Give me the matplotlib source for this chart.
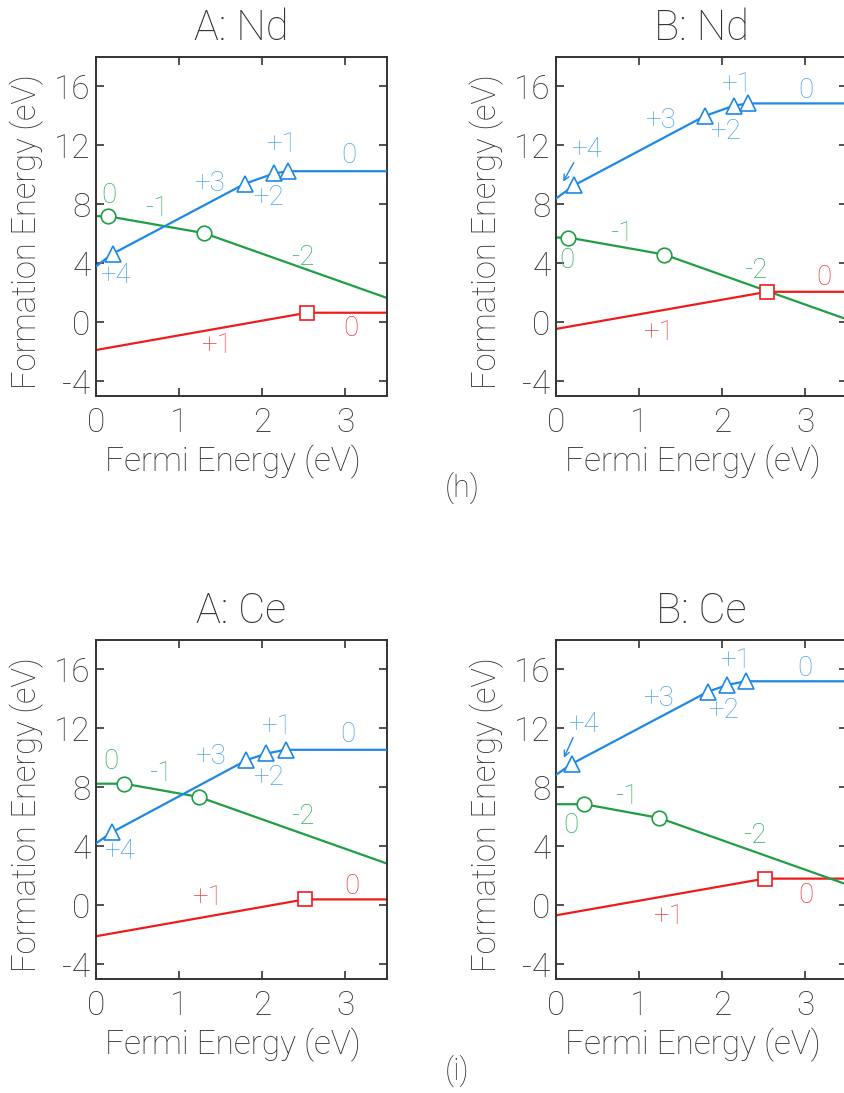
import matplotlib
matplotlib.use("Agg")
import matplotlib.pyplot as plt

plt.rcParams['font.family'] = ['Roboto', 'DejaVu Sans']
plt.rcParams['font.weight'] = 'light'
plt.rcParams['axes.labelweight'] = 'light'
plt.rcParams['axes.titleweight'] = 'light'
plt.rcParams['axes.unicode_minus'] = False

BLUE, GREEN, RED = '#1e88e5', '#1f9e45', '#ee1c1c'
BLUE_T, GREEN_T, RED_T = '#4ea4e6', '#34b060', '#e84040'
DARK = '#333333'

titles = ['A: Nd', 'B: Nd', 'A: Ce', 'B: Ce']

# transition-level vertices (Fermi energy, formation energy) per panel
blue_x = [[0, 0.20, 1.79, 2.14, 2.31, 3.5],
          [0, 0.22, 1.79, 2.14, 2.31, 3.5],
          [0, 0.19, 1.81, 2.05, 2.28, 3.5],
          [0, 0.19, 1.83, 2.06, 2.28, 3.5]]
blue_y = [[3.8, 4.65, 9.4, 10.1, 10.25, 10.25],
          [8.4, 9.3, 14.0, 14.7, 14.85, 14.85],
          [4.2, 4.95, 9.85, 10.3, 10.55, 10.55],
          [8.85, 9.6, 14.5, 14.95, 15.2, 15.2]]

green_x = [[0, 0.14, 1.30, 3.5],
           [0, 0.15, 1.30, 3.5],
           [0, 0.34, 1.24, 3.5],
           [0, 0.34, 1.24, 3.5]]
green_y = [[7.2, 7.2, 6.05, 1.65],
           [5.75, 5.75, 4.6, 0.2],
           [8.25, 8.25, 7.35, 2.83],
           [6.86, 6.86, 5.93, 1.41]]

red_x = [[0, 2.54, 3.5],
         [0, 2.54, 3.5],
         [0, 2.51, 3.5],
         [0, 2.51, 3.5]]
red_y = [[-1.88, 0.65, 0.65],
         [-0.45, 2.07, 2.07],
         [-2.1, 0.4, 0.4],
         [-0.68, 1.81, 1.81]]

# charge-state labels: (text, x, y)
blue_labels = [
    [('0', 3.04, 11.3), ('+1', 2.23, 12.05), ('+3', 1.36, 9.42), ('+2', 2.07, 8.47), ('+4', 0.23, 3.16)],
    [('0', 3.0, 15.75), ('+1', 2.17, 16.15), ('+3', 1.26, 13.67), ('+2', 2.04, 12.93), ('+4', 0.37, 11.75)],
    [('0', 3.03, 11.6), ('+1', 2.17, 12.1), ('+3', 1.38, 10.07), ('+2', 2.08, 8.7), ('+4', 0.28, 3.62)],
    [('0', 2.99, 16.1), ('+1', 2.16, 16.6), ('+3', 1.23, 14.0), ('+2', 2.02, 13.2), ('+4', 0.33, 12.28)],
]
green_labels = [
    [('0', 0.15, 8.6), ('-1', 0.73, 7.7), ('-2', 2.49, 4.4)],
    [('0', 0.13, 4.2), ('-1', 0.79, 6.0), ('-2', 2.40, 3.5)],
    [('0', 0.18, 9.73), ('-1', 0.78, 8.94), ('-2', 2.49, 6.04)],
    [('0', 0.18, 5.43), ('-1', 0.85, 7.35), ('-2', 2.39, 4.75)],
]
red_labels = [
    [('0', 3.06, -0.45), ('+1', 1.45, -1.58)],
    [('0', 3.22, 3.05), ('+1', 1.23, -0.68)],
    [('0', 3.08, 1.29), ('+1', 1.34, 0.5)],
    [('0', 3.0, 0.68), ('+1', 1.35, -0.75)],
]
# arrows from the +4 label to its marker (B panels only)
arrows = [None, ((0.07, 9.38), (0.23, 11.0)), None, ((0.08, 9.84), (0.22, 11.55))]

W, H = 845, 1093
fig = plt.figure(figsize=(W / 100, H / 100), dpi=100)

# axes boxes in pixels: left, top
boxes = [(96, 57), (556, 57), (96, 640), (556, 640)]
aw, ah = 291, 339

for i, (lx, ty) in enumerate(boxes):
    ax = fig.add_axes([lx / W, (H - ty - ah) / H, aw / W, ah / H])
    ax.plot(red_x[i], red_y[i], color=RED, lw=1.6, zorder=2)
    ax.plot(red_x[i][1], red_y[i][1], 's', ms=9.5, mfc='white', mec=RED, mew=1.2, zorder=5)
    ax.plot(green_x[i], green_y[i], color=GREEN, lw=1.6, zorder=2)
    ax.plot(green_x[i][1:3], green_y[i][1:3], 'o', ms=10.5, mfc='white', mec=GREEN, mew=1.2, zorder=5)
    ax.plot(blue_x[i], blue_y[i], color=BLUE, lw=1.6, zorder=3)
    ax.plot(blue_x[i][1:5], blue_y[i][1:5], '^', ms=11.5, mfc='white', mec=BLUE, mew=1.2, zorder=5)

    for lbls, c in ((blue_labels[i], BLUE_T), (green_labels[i], GREEN_T), (red_labels[i], RED_T)):
        for t, x, y in lbls:
            ax.text(x, y, t, color=c, fontsize=20, ha='center', va='center', zorder=6)
    if arrows[i] is not None:
        ax.annotate('', xy=arrows[i][0], xytext=arrows[i][1],
                    arrowprops=dict(arrowstyle='->', color=BLUE, lw=1.0), zorder=6)

    ax.set_xlim(0, 3.5)
    ax.set_ylim(-5, 18)
    ax.set_xticks([0, 1, 2, 3])
    ax.set_yticks([-4, 0, 4, 8, 12, 16])
    ax.tick_params(direction='in', length=6, width=1.2, colors=DARK,
                   labelsize=24, top=True, right=True, pad=4)
    ax.tick_params(axis='x', pad=8)
    for s in ax.spines.values():
        s.set_color(DARK)
        s.set_linewidth(1.4)
    ax.set_xlabel('Fermi Energy (eV)', fontsize=24, color=DARK)
    ax.set_ylabel('Formation Energy (eV)', fontsize=23.5, color=DARK)
    ax.xaxis.set_label_coords(0.47, -0.145)
    ax.yaxis.set_label_coords(-0.18, 0.485)
    ax.set_title(titles[i], fontsize=30, color=DARK, pad=12)

fig.text(462 / W, 1 - 488 / H, '(h)', fontsize=22, color=DARK, ha='center', va='center')
fig.text(457 / W, 1 - 1071 / H, '(i)', fontsize=22, color=DARK, ha='center', va='center')

fig.savefig('out.png', dpi=100, facecolor='white')
